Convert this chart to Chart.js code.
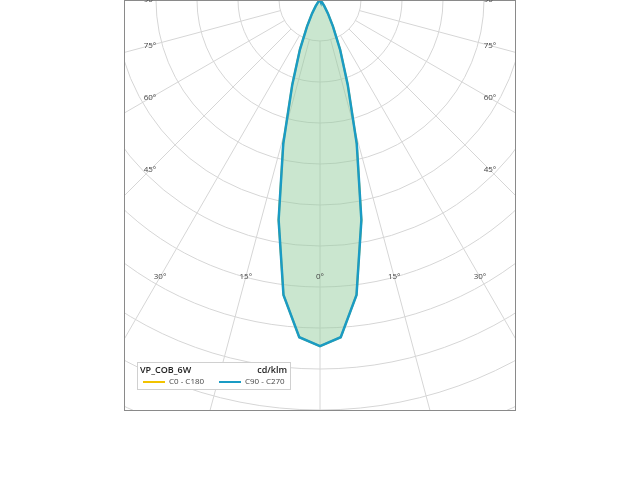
<!DOCTYPE html>
<html>
<head>
<meta charset="utf-8">
<script src="https://cdn.jsdelivr.net/npm/chart.js@4"></script>
<style>
  html, body { margin: 0; padding: 0; background: #fff; overflow: hidden; }
  canvas { display: block; }
</style>
</head>
<body>
<canvas id="c" width="640" height="480"></canvas>
<script>
// gamma angles (deg from nadir) and intensity (ring units)
var gammaAngles = [0, 5, 10, 15, 20, 25, 30, 35, 40, 45, 50, 60, 70, 80, 90];
var c0c180 = [5.93, 5.80, 5.13, 3.90, 2.62, 1.60, 0.98, 0.55, 0.30, 0.15, 0.07, 0.02, 0, 0, 0];
var c90c270 = [5.93, 5.80, 5.13, 3.90, 2.62, 1.60, 0.98, 0.55, 0.30, 0.15, 0.07, 0.02, 0, 0, 0];
var tickAngles = [0, 15, 30, 45, 60, 75, 90, 105];
var seriesLabels = ['C0 - C180', 'C90 - C270'];
var luminaireName = 'VP_COB_6W';
var unitLabel = 'cd/klm';

function toXY(angles, values) {
    var pts = [];
    for (var i = angles.length - 1; i >= 0; i--) {
        var a = angles[i] * Math.PI / 180;
        pts.push({x: values[i] * Math.sin(a), y: -values[i] * Math.cos(a)});
    }
    for (var j = 1; j < angles.length; j++) {
        var b = angles[j] * Math.PI / 180;
        pts.push({x: -values[j] * Math.sin(b), y: -values[j] * Math.cos(b)});
    }
    return pts;
}

var polarGrid = {
    id: 'polarGrid',
    beforeDatasetsDraw: function (chart) {
        var ctx = chart.ctx, xs = chart.scales.x, ys = chart.scales.y, area = chart.chartArea;
        var cx = xs.getPixelForValue(0), cy = ys.getPixelForValue(0);
        var unit = xs.getPixelForValue(1) - cx;
        ctx.save();
        ctx.beginPath();
        ctx.rect(area.left, area.top, area.right - area.left, area.bottom - area.top);
        ctx.clip();
        ctx.strokeStyle = '#d6d6d6';
        ctx.lineWidth = 1;
        for (var r = 1; r <= 12; r++) {
            ctx.beginPath();
            ctx.arc(cx, cy, r * unit, 0, Math.PI * 2);
            ctx.stroke();
        }
        for (var d = 0; d < 360; d += 15) {
            var a = d * Math.PI / 180;
            ctx.beginPath();
            ctx.moveTo(cx + Math.sin(a) * unit, cy + Math.cos(a) * unit);
            ctx.lineTo(cx + Math.sin(a) * 20 * unit, cy + Math.cos(a) * 20 * unit);
            ctx.stroke();
        }
        ctx.restore();
    },
    afterDraw: function (chart) {
        var ctx = chart.ctx, xs = chart.scales.x, ys = chart.scales.y, area = chart.chartArea;
        var cx = xs.getPixelForValue(0), cy = ys.getPixelForValue(0);
        ctx.save();
        ctx.strokeStyle = '#8a8a8a';
        ctx.lineWidth = 1;
        ctx.strokeRect(area.left + 0.5, area.top + 0.5, area.right - area.left, area.bottom - area.top);

        // angle labels on an inset rectangle
        ctx.font = '8px "Open Sans"';
        ctx.fillStyle = '#444';
        ctx.textAlign = 'center';
        ctx.textBaseline = 'middle';
        var hx = 170, by = 277;
        tickAngles.forEach(function (t) {
            var a = t * Math.PI / 180;
            var sx = Math.sin(a), sy = Math.cos(a);
            var k = sx > 0 ? Math.min(hx / sx, sy > 0 ? by / sy : 1e9) : by / sy;
            var px = sx * k, py = sy * k;
            [1, -1].forEach(function (s) {
                if (t === 0 && s < 0) return;
                ctx.fillText(t + '°', cx + s * px, cy + py);
            });
        });

        // legend box
        var lx = 137, ly = 362, lw = 153, lh = 27;
        ctx.fillStyle = '#fff';
        ctx.fillRect(lx, ly, lw, lh);
        ctx.strokeStyle = '#d0d0d0';
        ctx.strokeRect(lx + 0.5, ly + 0.5, lw, lh);
        ctx.fillStyle = '#222';
        ctx.font = '600 9px "Open Sans"';
        ctx.textAlign = 'left';
        ctx.fillText(luminaireName, lx + 3, ly + 8);
        ctx.textAlign = 'right';
        ctx.fillText(unitLabel, lx + lw - 3, ly + 8);
        var cols = ['#f2c300', '#1a9bc4'];
        var sx0 = [lx + 6, lx + 82];
        ctx.font = '8px "Open Sans"';
        ctx.textAlign = 'left';
        for (var i = 0; i < 2; i++) {
            ctx.strokeStyle = cols[i];
            ctx.lineWidth = 2;
            ctx.beginPath();
            ctx.moveTo(sx0[i], ly + 20);
            ctx.lineTo(sx0[i] + 22, ly + 20);
            ctx.stroke();
            ctx.fillStyle = '#444';
            ctx.fillText(seriesLabels[i], sx0[i] + 26, ly + 20);
        }
        ctx.restore();
    }
};

var unitPx = 41;
var left = 124, right = 515, top = 69, bottom = 410, cX = 320, cY = 122;

new Chart(document.getElementById('c'), {
    type: 'scatter',
    data: {
        datasets: [{
            label: seriesLabels[1],
            data: toXY(gammaAngles, c90c270),
            showLine: true,
            borderColor: '#1a9bc4',
            backgroundColor: 'rgba(150,205,160,0.5)',
            borderWidth: 2.5,
            pointRadius: 0,
            fill: 'shape'
        }, {
            label: seriesLabels[0],
            data: toXY(gammaAngles, c0c180),
            showLine: true,
            borderColor: '#f2c300',
            borderWidth: 2,
            pointRadius: 0,
            fill: false
        }]
    },
    options: {
        responsive: false,
        animation: false,
        layout: {padding: {left: left, right: 640 - right, top: top, bottom: 480 - bottom}},
        plugins: {legend: {display: false}, tooltip: {enabled: false}},
        scales: {
            x: {display: false, min: -(cX - left) / unitPx, max: (right - cX) / unitPx},
            y: {display: false, min: -(bottom - cY) / unitPx, max: (cY - top) / unitPx}
        }
    },
    plugins: [polarGrid]
});
</script>
</body>
</html>
